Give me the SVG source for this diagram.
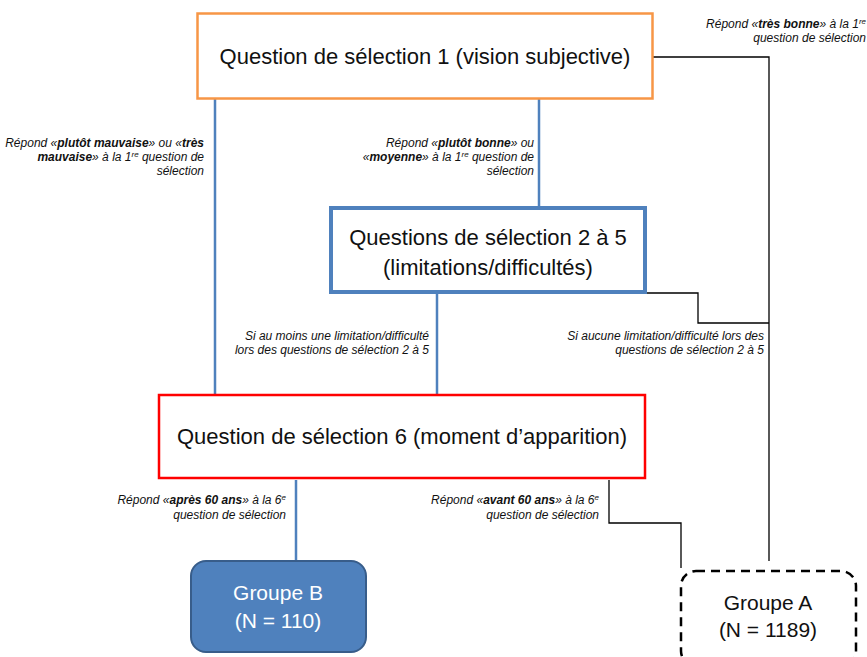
<svg xmlns="http://www.w3.org/2000/svg" width="867" height="657" viewBox="0 0 867 657">
<style>
.main{font-family:"Liberation Sans",Arial,sans-serif;font-size:22px;fill:#111;text-anchor:middle}
.grp{font-family:"Liberation Sans",Arial,sans-serif;font-size:21px;text-anchor:middle}
.lbl{font-family:"Liberation Sans",Arial,sans-serif;font-size:12px;font-style:italic;fill:#111;text-anchor:end}
.b{font-weight:bold}
.sup{font-size:8px}
.blue{stroke:#4F81BD;stroke-width:2.5;fill:none}
.blk{stroke:#000;stroke-width:1.3;fill:none}
</style>
<rect width="867" height="657" fill="#fff"/>
<g id="connectors">
<line class="blue" x1="215" y1="99" x2="215" y2="394"/>
<line class="blue" x1="539" y1="99" x2="539" y2="207"/>
<line class="blue" x1="437" y1="293" x2="437" y2="394"/>
<line class="blue" x1="296" y1="480" x2="296" y2="560"/>
<polyline class="blk" points="653,57 769,57 769,561"/>
<polyline class="blk" points="628,293 698,293 698,323 769,323"/>
<polyline class="blk" points="609,480 609,523 681,523 681,568"/>
<text class="lbl" x="204" y="147">Répond «<tspan class="b">plutôt mauvaise</tspan>» ou «<tspan class="b">très</tspan></text>
<text class="lbl" x="204" y="161"><tspan class="b">mauvaise</tspan>» à la 1<tspan class="sup" dy="-4">re</tspan><tspan dy="4"> question de</tspan></text>
<text class="lbl" x="204" y="175">sélection</text>
<text class="lbl" x="534" y="147">Répond «<tspan class="b">plutôt bonne</tspan>» ou</text>
<text class="lbl" x="534" y="161">«<tspan class="b">moyenne</tspan>» à la 1<tspan class="sup" dy="-4">re</tspan><tspan dy="4"> question de</tspan></text>
<text class="lbl" x="534" y="175">sélection</text>
<text class="lbl" x="866" y="28">Répond «<tspan class="b">très bonne</tspan>» à la 1<tspan class="sup" dy="-4">re</tspan></text>
<text class="lbl" x="866" y="42">question de sélection</text>
<text class="lbl" x="429" y="340">Si au moins une limitation/difficulté</text>
<text class="lbl" x="429" y="354">lors des questions de sélection 2 à 5</text>
<text class="lbl" x="764" y="340">Si aucune limitation/difficulté lors des</text>
<text class="lbl" x="764" y="354">questions de sélection 2 à 5</text>
<text class="lbl" x="286" y="504">Répond «<tspan class="b">après 60 ans</tspan>» à la 6<tspan class="sup" dy="-4">e</tspan></text>
<text class="lbl" x="286" y="519">question de sélection</text>
<text class="lbl" x="599" y="504">Répond «<tspan class="b">avant 60 ans</tspan>» à la 6<tspan class="sup" dy="-4">e</tspan></text>
<text class="lbl" x="599" y="519">question de sélection</text>
</g>
<g id="q1">
<rect x="197.5" y="13.5" width="455" height="85" fill="#fff" stroke="#F79646" stroke-width="2.5"/>
<text class="main" x="425" y="64">Question de sélection 1 (vision subjective)</text>
</g>
<g id="q2">
<rect x="331" y="208" width="314" height="84" fill="#fff" stroke="#4F81BD" stroke-width="4"/>
<text class="main" x="488" y="245">Questions de sélection 2 à 5</text>
<text class="main" x="488" y="275">(limitations/difficultés)</text>
</g>
<g id="q6">
<rect x="159" y="395" width="486" height="83" fill="#fff" stroke="#FF0000" stroke-width="2.5"/>
<text class="main" x="402" y="444">Question de sélection 6 (moment d’apparition)</text>
</g>
<g id="groupeB">
<rect x="191" y="561" width="175" height="91" rx="15" fill="#4F81BD" stroke="#385D8A" stroke-width="2"/>
<text class="grp" x="278" y="600" fill="#fff">Groupe B</text>
<text class="grp" x="278" y="628" fill="#fff">(N = 110)</text>
</g>
<g id="groupeA">
<rect x="681" y="571" width="175" height="95" rx="15" fill="#fff" stroke="#000" stroke-width="2.5" stroke-dasharray="9 6"/>
<text class="grp" x="768" y="610" fill="#111">Groupe A</text>
<text class="grp" x="768" y="637" fill="#111">(N = 1189)</text>
</g>
</svg>
